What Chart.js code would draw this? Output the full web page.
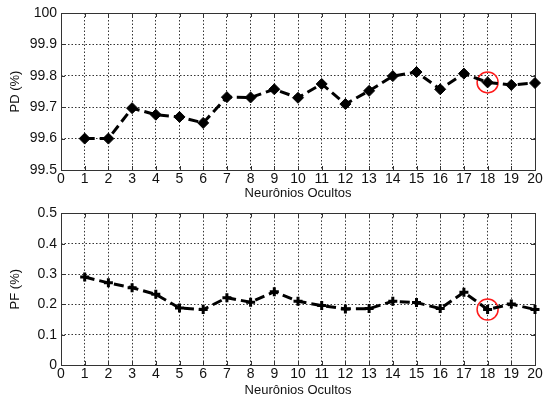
<!DOCTYPE html>
<html>
<head>
<meta charset="utf-8">
<script src="https://cdn.jsdelivr.net/npm/chart.js@4"></script>
<style>
  html, body { margin: 0; padding: 0; background: #fff; }
  #wrap { position: relative; width: 548px; height: 401px; }
  .panel { position: absolute; left: 0; }
</style>
</head>
<body>
<div id="wrap">
  <div class="panel" style="top:0"><canvas id="pdChart" width="548" height="201"></canvas></div>
  <div class="panel" style="top:201px"><canvas id="pfChart" width="548" height="200"></canvas></div>
</div>
<script>
// hidden neurons tested, detection / false alarm rates (%)
const neurons = [1, 2, 3, 4, 5, 6, 7, 8, 9, 10, 11, 12, 13, 14, 15, 16, 17, 18, 19, 20];
const pdValues = [99.600, 99.600, 99.697, 99.676, 99.669, 99.650, 99.732, 99.731, 99.757, 99.730,
                  99.774, 99.710, 99.752, 99.799, 99.812, 99.757, 99.807, 99.779, 99.771, 99.777];
const pfValues = [0.290, 0.271, 0.255, 0.233, 0.188, 0.183, 0.222, 0.207, 0.242, 0.210,
                  0.196, 0.185, 0.186, 0.210, 0.206, 0.186, 0.240, 0.183, 0.201, 0.183];
const chosenNeurons = 18;

const xTicks = { min: 0, max: 20, step: 1 };
const pdTicks = { min: 99.5, max: 100, step: 0.1 };
const pfTicks = { min: 0, max: 0.5, step: 0.1 };

const FONT = { family: 'Arial, "Liberation Sans", sans-serif', size: 13 };
const TICK_FONT = { family: 'Arial, "Liberation Sans", sans-serif', size: 14 };

// box around the plot area plus little inward tick marks, matlab style
const frameBox = {
  id: 'frameBox',
  beforeDatasetsDraw(chart) {
    const { ctx, chartArea: a, scales } = chart;
    ctx.save();
    ctx.strokeStyle = '#333';
    ctx.lineWidth = 1;
    ctx.beginPath();
    scales.x.ticks.forEach(t => {
      const px = Math.round(scales.x.getPixelForValue(t.value)) + 0.5;
      ctx.moveTo(px, a.bottom); ctx.lineTo(px, a.bottom - 4);
      ctx.moveTo(px, a.top); ctx.lineTo(px, a.top + 4);
    });
    scales.y.ticks.forEach(t => {
      const py = Math.round(scales.y.getPixelForValue(t.value)) + 0.5;
      ctx.moveTo(a.left, py); ctx.lineTo(a.left + 4, py);
      ctx.moveTo(a.right, py); ctx.lineTo(a.right - 4, py);
    });
    ctx.stroke();
    ctx.strokeRect(Math.round(a.left) + 0.5, Math.round(a.top) + 0.5,
                   Math.round(a.right - a.left), Math.round(a.bottom - a.top));
    ctx.restore();
  }
};

function makeChart(id, values, yTicks, yLabel, marker, pad) {
  const points = neurons.map((n, i) => ({ x: n, y: values[i] }));
  const pick = points.filter(p => p.x === chosenNeurons);
  const dotted = {
    color: '#000',
    lineWidth: 0.8,
    drawTicks: false
  };
  return new Chart(document.getElementById(id), {
    type: 'line',
    data: {
      datasets: [
        {
          data: points,
          borderColor: '#000',
          borderWidth: 3,
          borderDash: [10, 5],
          pointStyle: marker.style,
          pointRadius: marker.radius,
          pointBorderWidth: marker.border,
          pointBackgroundColor: '#000',
          pointBorderColor: '#000',
          tension: 0,
          clip: false
        },
        {
          data: pick,
          showLine: false,
          pointStyle: 'circle',
          pointRadius: 10.5,
          pointBorderWidth: 1.5,
          pointBorderColor: '#ff1a1a',
          pointBackgroundColor: 'rgba(0,0,0,0)',
          clip: false
        }
      ]
    },
    options: {
      responsive: false,
      animation: false,
      events: [],
      layout: { padding: { top: pad.top, right: 13, left: 0, bottom: 0 } },
      plugins: { legend: { display: false }, tooltip: { enabled: false } },
      scales: {
        x: {
          type: 'linear',
          min: xTicks.min,
          max: xTicks.max,
          afterFit: s => { s.height = pad.xHeight; },
          ticks: { stepSize: xTicks.step, padding: pad.tick, color: '#111', font: TICK_FONT, maxRotation: 0,
                   autoSkip: false },
          grid: dotted,
          border: { display: false, dash: [1.5, 2] },
          title: { display: true, text: 'Neurônios Ocultos', color: '#111', font: FONT,
                   padding: { top: 0, bottom: pad.title } }
        },
        y: {
          min: yTicks.min,
          max: yTicks.max,
          afterFit: s => { s.width = 61; },
          ticks: { stepSize: yTicks.step, padding: 4, color: '#111', font: TICK_FONT,
                   callback: v => String(+v.toFixed(1)) },
          grid: dotted,
          border: { display: false, dash: [1.5, 2] },
          title: { display: true, text: yLabel, color: '#111', font: FONT,
                   padding: { top: 8, bottom: 0 } }
        }
      }
    },
    plugins: [frameBox]
  });
}

makeChart('pdChart', pdValues, pdTicks, 'PD (%)',
  { style: 'rectRot', radius: 5.5, border: 1 },
  { top: 13, xHeight: 31, tick: 1, title: 0 });
makeChart('pfChart', pfValues, pfTicks, 'PF (%)',
  { style: 'cross', radius: 4.5, border: 3 },
  { top: 9, xHeight: 36, tick: 1, title: 3 });
</script>
</body>
</html>
